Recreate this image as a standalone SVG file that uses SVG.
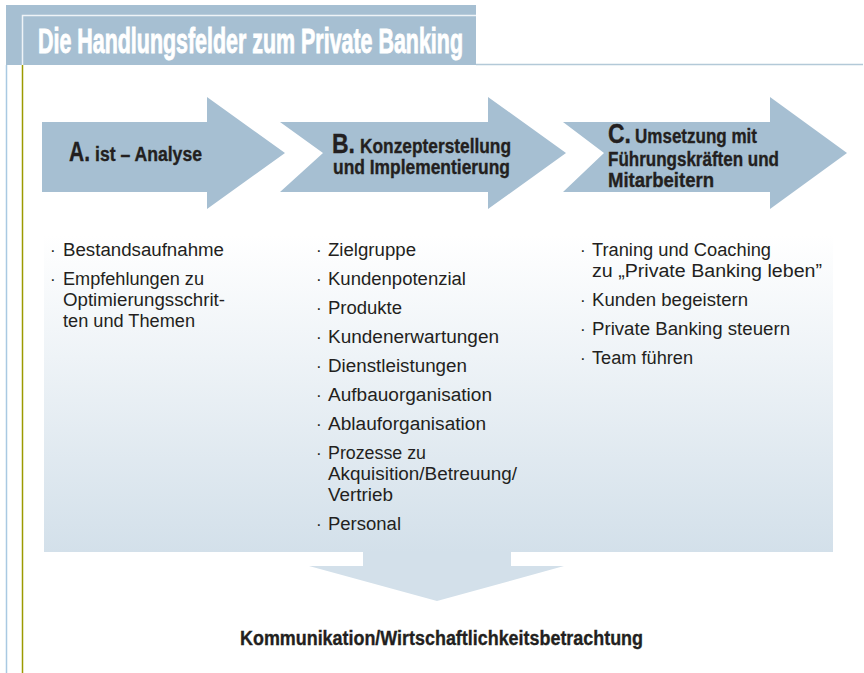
<svg xmlns="http://www.w3.org/2000/svg" width="864" height="673" viewBox="0 0 864 673">
  <defs>
    <linearGradient id="panelFill" x1="0" y1="0" x2="0" y2="1">
      <stop offset="0" stop-color="#ffffff"/>
      <stop offset="1" stop-color="#d3e0ea"/>
    </linearGradient>
    <style>
      .blue { fill: #a6bfd2; }
      .bold { font-family: "Liberation Sans Narrow", "Liberation Sans", Arial, sans-serif; font-weight: bold; fill: #231f20; stroke: #231f20; stroke-width: 0.35px; }
      .title { font-family: "Liberation Sans Narrow", "Liberation Sans", Arial, sans-serif; font-weight: bold; fill: #ffffff; stroke: #ffffff; stroke-width: 0.9px; font-size: 35px; }
      .item { font-family: "Liberation Sans Narrow", "Liberation Sans", Arial, sans-serif; font-size: 18px; fill: #231f20; }
      .dot { font-family: "Liberation Sans", Arial, sans-serif; font-size: 17px; fill: #231f20; }
      .big { font-size: 27px; }
      .lbl { font-size: 20px; }
    </style>
  </defs>

  <rect width="864" height="673" fill="#ffffff"/>

  <!-- header band with title -->
  <g id="header">
    <rect class="blue" x="6" y="5" width="470" height="60"/>
    <path d="M22.5,65 V15.5 H476" fill="none" stroke="#eef3f7" stroke-width="1.5"/>
    <line x1="476" y1="64.5" x2="863" y2="64.5" stroke="#b3c9d8" stroke-width="1.5"/>
    <line x1="6.5" y1="65" x2="6.5" y2="673" stroke="#a9c9e2" stroke-width="1.5"/>
    <line x1="22.5" y1="65" x2="22.5" y2="673" stroke="#9c9a00" stroke-width="1.5"/>
    <text class="title" x="38" y="53" textLength="425" lengthAdjust="spacingAndGlyphs">Die Handlungsfelder zum Private Banking</text>
  </g>

  <!-- background panel behind the lists -->
  <g id="panel">
    <rect x="44" y="235" width="789" height="317" fill="url(#panelFill)"/>
  </g>

  <!-- phase arrows -->
  <g id="arrow-a">
    <path class="blue" d="M42,122 H207 V97 L285,153 L207,209 V192 H42 Z"/>
    <text class="bold big" x="69" y="161" textLength="21" lengthAdjust="spacingAndGlyphs">A.</text>
    <text class="bold lbl" x="95" y="161" textLength="107" lengthAdjust="spacingAndGlyphs">ist – Analyse</text>
  </g>

  <g id="arrow-b">
    <path class="blue" d="M280,122 H488 V97 L566,153 L488,209 V192 H280 L323,153 Z"/>
    <text class="bold big" x="332" y="153" textLength="23" lengthAdjust="spacingAndGlyphs">B.</text>
    <text class="bold lbl" x="360" y="153" textLength="151" lengthAdjust="spacingAndGlyphs">Konzepterstellung</text>
    <text class="bold lbl" x="333" y="174" textLength="177" lengthAdjust="spacingAndGlyphs">und Implementierung</text>
  </g>

  <g id="arrow-c">
    <path class="blue" d="M563,122 H770 V97 L847,153 L770,209 V192 H563 L604,153 Z"/>
    <text class="bold big" x="608" y="143" textLength="23" lengthAdjust="spacingAndGlyphs">C.</text>
    <text class="bold lbl" x="635" y="143" textLength="122" lengthAdjust="spacingAndGlyphs">Umsetzung mit</text>
    <text class="bold lbl" x="608" y="166" textLength="171" lengthAdjust="spacingAndGlyphs">Führungskräften und</text>
    <text class="bold lbl" x="608" y="187" textLength="106" lengthAdjust="spacingAndGlyphs">Mitarbeitern</text>
  </g>

  <!-- list A -->
  <g id="list-a">
    <text class="dot" x="50" y="256">·</text>
    <text class="item" x="63" y="256" textLength="161" lengthAdjust="spacingAndGlyphs">Bestandsaufnahme</text>
    <text class="dot" x="50" y="285">·</text>
    <text class="item" x="63" y="285" textLength="141" lengthAdjust="spacingAndGlyphs">Empfehlungen zu</text>
    <text class="item" x="63" y="306" textLength="162" lengthAdjust="spacingAndGlyphs">Optimierungsschrit-</text>
    <text class="item" x="63" y="327" textLength="132" lengthAdjust="spacingAndGlyphs">ten und Themen</text>
  </g>

  <!-- list B -->
  <g id="list-b">
    <text class="dot" x="316" y="256">·</text>
    <text class="item" x="328" y="256" textLength="88" lengthAdjust="spacingAndGlyphs">Zielgruppe</text>
    <text class="dot" x="316" y="285">·</text>
    <text class="item" x="328" y="285" textLength="138" lengthAdjust="spacingAndGlyphs">Kundenpotenzial</text>
    <text class="dot" x="316" y="314">·</text>
    <text class="item" x="328" y="314" textLength="74" lengthAdjust="spacingAndGlyphs">Produkte</text>
    <text class="dot" x="316" y="343">·</text>
    <text class="item" x="328" y="343" textLength="171" lengthAdjust="spacingAndGlyphs">Kundenerwartungen</text>
    <text class="dot" x="316" y="372">·</text>
    <text class="item" x="328" y="372" textLength="139" lengthAdjust="spacingAndGlyphs">Dienstleistungen</text>
    <text class="dot" x="316" y="401">·</text>
    <text class="item" x="328" y="401" textLength="164" lengthAdjust="spacingAndGlyphs">Aufbauorganisation</text>
    <text class="dot" x="316" y="430">·</text>
    <text class="item" x="328" y="430" textLength="158" lengthAdjust="spacingAndGlyphs">Ablauforganisation</text>
    <text class="dot" x="316" y="459">·</text>
    <text class="item" x="328" y="459" textLength="98" lengthAdjust="spacingAndGlyphs">Prozesse zu</text>
    <text class="item" x="328" y="480" textLength="189" lengthAdjust="spacingAndGlyphs">Akquisition/Betreuung/</text>
    <text class="item" x="328" y="501" textLength="65" lengthAdjust="spacingAndGlyphs">Vertrieb</text>
    <text class="dot" x="316" y="530">·</text>
    <text class="item" x="328" y="530" textLength="73" lengthAdjust="spacingAndGlyphs">Personal</text>
  </g>

  <!-- list C -->
  <g id="list-c">
    <text class="dot" x="580" y="256">·</text>
    <text class="item" x="592" y="256" textLength="179" lengthAdjust="spacingAndGlyphs">Traning und Coaching</text>
    <text class="item" x="592" y="277" textLength="230" lengthAdjust="spacingAndGlyphs">zu „Private Banking leben”</text>
    <text class="dot" x="580" y="306">·</text>
    <text class="item" x="592" y="306" textLength="156" lengthAdjust="spacingAndGlyphs">Kunden begeistern</text>
    <text class="dot" x="580" y="335">·</text>
    <text class="item" x="592" y="335" textLength="198" lengthAdjust="spacingAndGlyphs">Private Banking steuern</text>
    <text class="dot" x="580" y="364">·</text>
    <text class="item" x="592" y="364" textLength="101" lengthAdjust="spacingAndGlyphs">Team führen</text>
  </g>

  <!-- downward arrow from the panel to the result -->
  <g id="connectors">
    <path d="M363,552 H511 V566 H564 L437,601 L309,566 H363 Z" fill="#d3e0ea"/>
  </g>

  <g id="result">
    <text class="bold lbl" x="240" y="645" textLength="403" lengthAdjust="spacingAndGlyphs">Kommunikation/Wirtschaftlichkeitsbetrachtung</text>
  </g>
</svg>
